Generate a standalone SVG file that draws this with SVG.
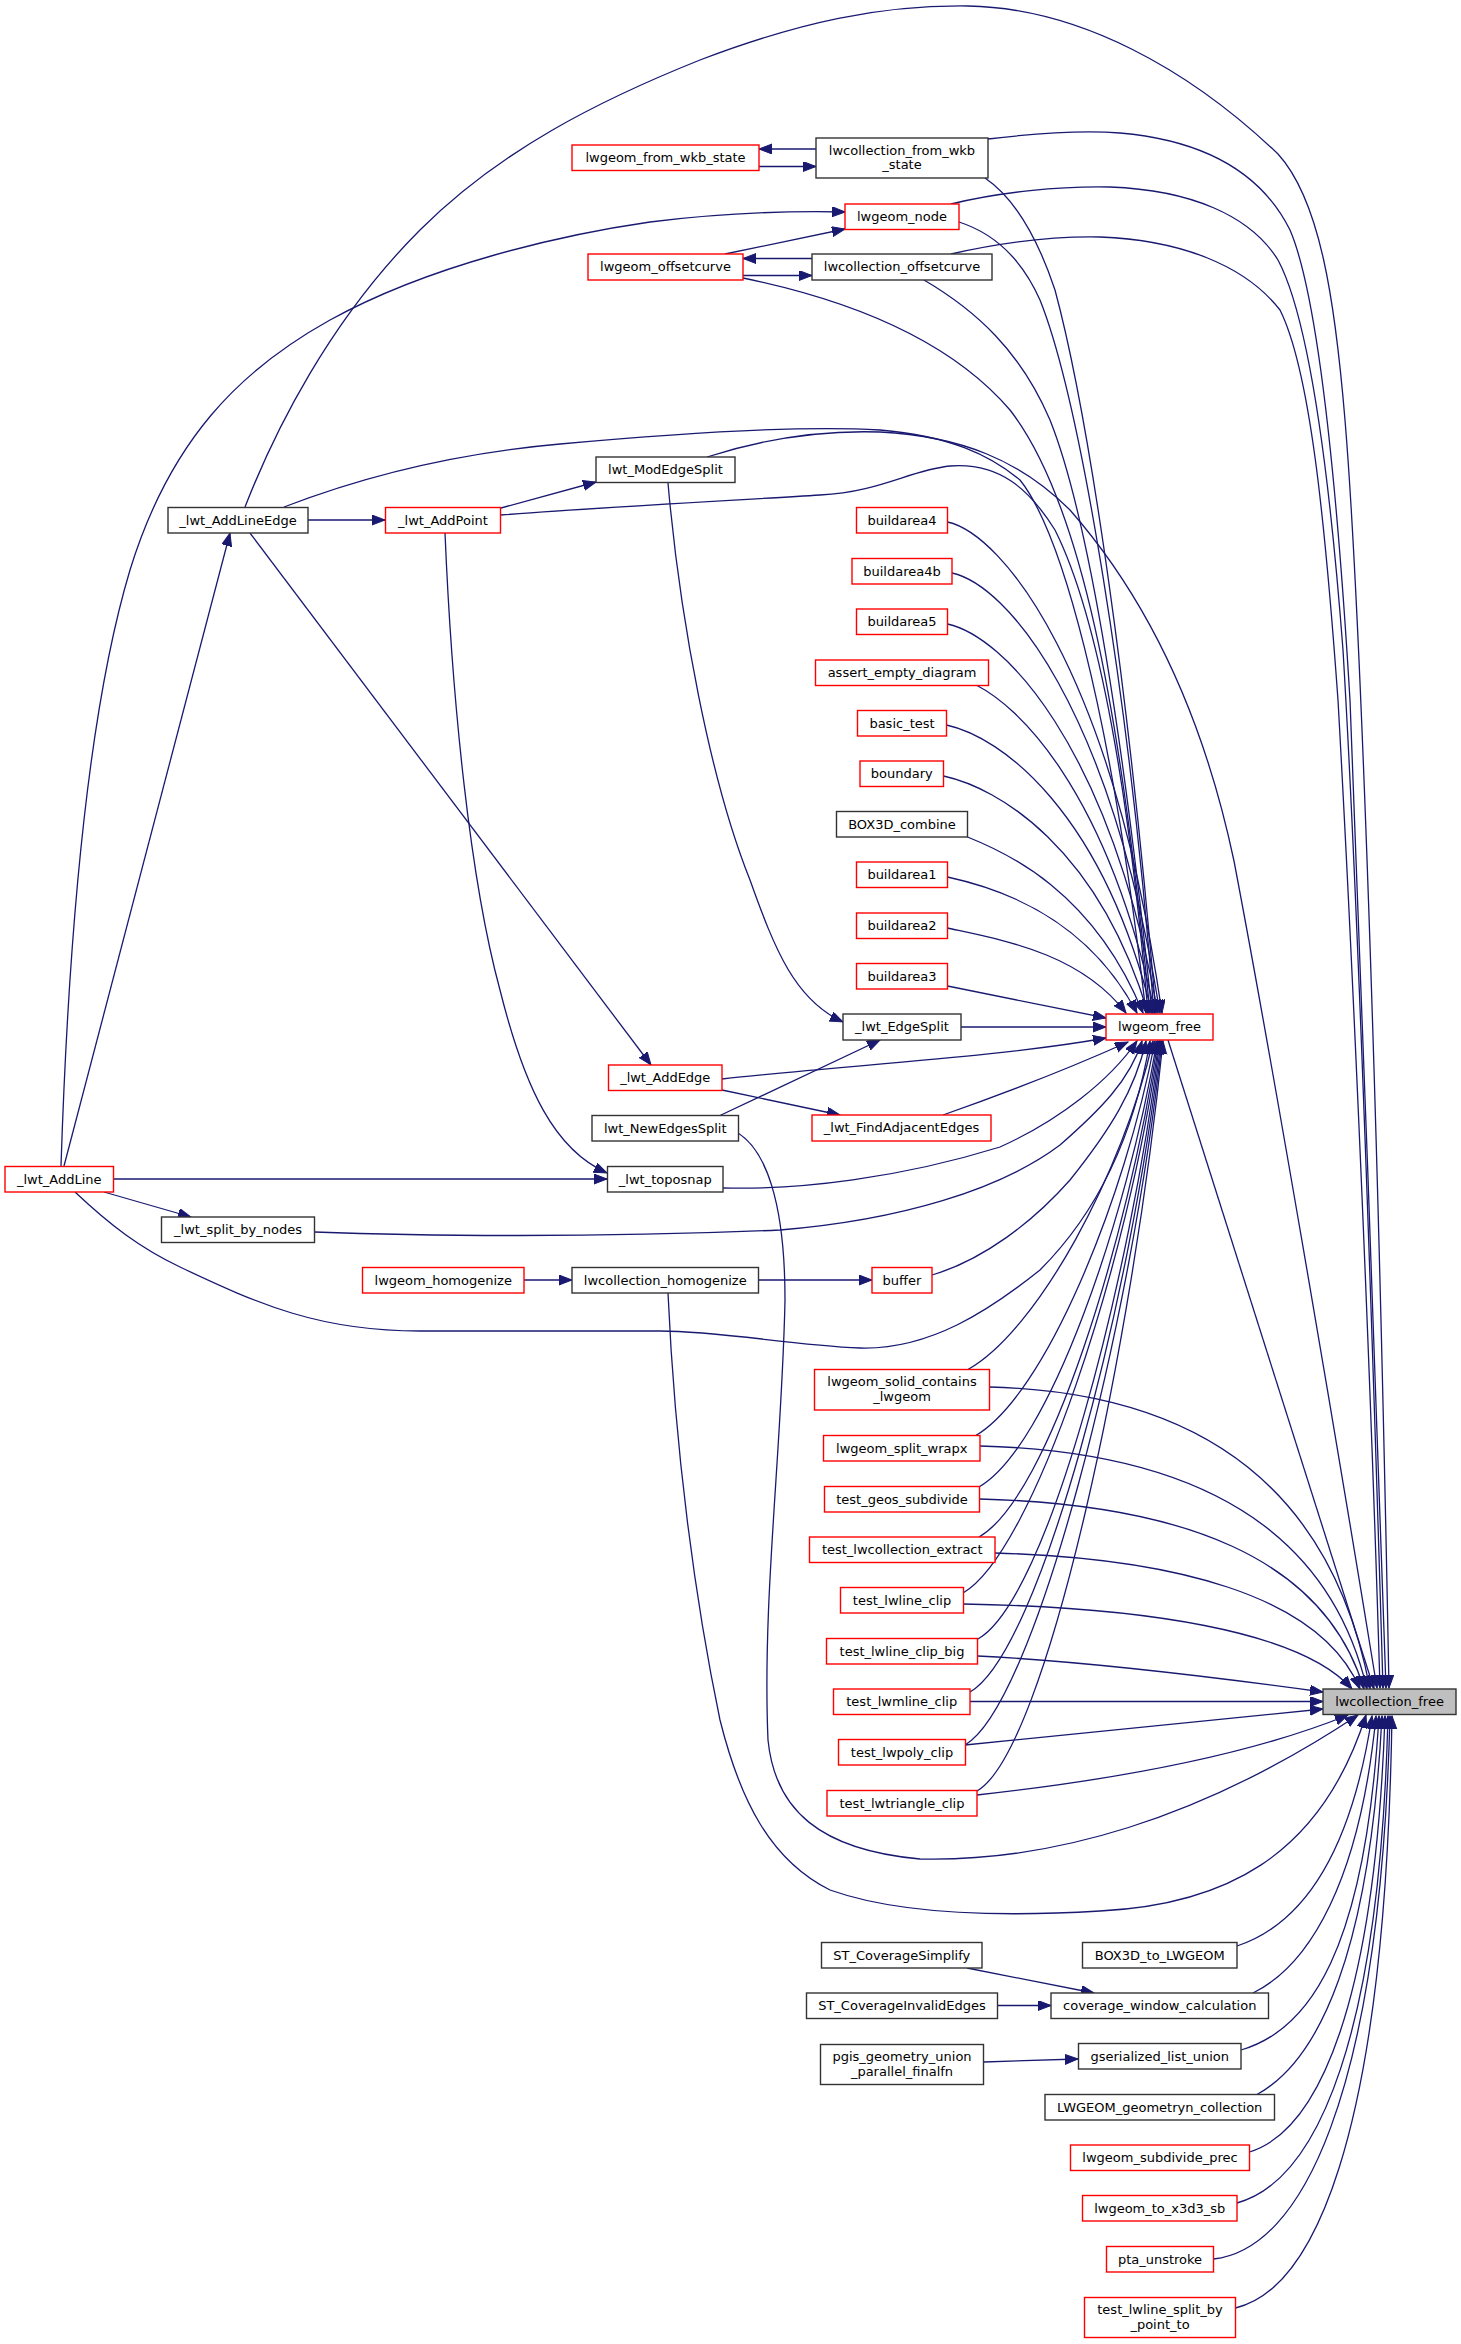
<svg xmlns="http://www.w3.org/2000/svg" width="1461" height="2344" viewBox="0 0 1461 2344">
<style>
.e{fill:none;stroke:#191970;stroke-width:1.3;marker-end:url(#a)}
.nr{fill:#ffffff;stroke:#ff0000;stroke-width:1.4}
.nb{fill:#ffffff;stroke:#333333;stroke-width:1.4}
.nroot{fill:#bfbfbf;stroke:#333333;stroke-width:1.4}
text{font-family:"DejaVu Sans","Liberation Sans",sans-serif;font-size:13px;fill:#000000;text-anchor:middle}
</style>
<defs>
<marker id="a" markerUnits="userSpaceOnUse" markerWidth="14" markerHeight="11" refX="13" refY="5" orient="auto" viewBox="0 0 14 11">
<path d="M0,0 L13,5 L0,10 z" fill="#191970" stroke="#191970" stroke-width="1"/>
</marker>
</defs>
<rect x="0" y="0" width="1461" height="2344" fill="#ffffff"/>
<g id="edges">
<path class="e" d="M1168,1040 L1374,1689"/>
<path class="e" d="M245,507 C275,430 330,320 420,230 C500,150 600,100 700,60 C800,22 880,5 968,6 C1080,8 1190,70 1278,154 C1320,200 1335,300 1345,420 C1360,600 1378,1100 1389,1688"/>
<path class="e" d="M988,139 C1030,134 1080,130 1120,133 C1200,140 1260,170 1290,230 C1320,300 1338,500 1350,700 C1362,1000 1376,1400 1386,1688"/>
<path class="e" d="M951,204 C1000,192 1060,186 1110,187 C1190,190 1250,215 1278,260 C1310,320 1330,480 1343,650 C1358,900 1373,1350 1383,1688"/>
<path class="e" d="M951,254 C1000,243 1050,236 1100,237 C1180,240 1245,265 1280,310 C1310,370 1325,520 1338,700 C1352,950 1370,1350 1380,1688"/>
<path class="e" d="M707,457 C760,440 820,430 880,432 C960,436 1020,460 1070,510 C1140,590 1200,700 1234,861 C1270,1050 1330,1400 1377,1688"/>
<path class="e" d="M284,507 C380,470 470,452 560,444 C680,433 800,425 880,430 C950,436 990,455 1020,480 C1060,530 1110,700 1146,1013"/>
<path class="e" d="M501,508 L596,482"/>
<path class="e" d="M501,515 C620,506 740,500 820,495 C880,492 910,470 950,466 C1000,462 1030,490 1055,530 C1100,620 1130,800 1148,1013"/>
<path class="e" d="M445,533 C452,700 470,880 500,990 C525,1090 555,1150 607,1173"/>
<path class="e" d="M308,520 L385,520"/>
<path class="e" d="M250,533 L651,1065"/>
<path class="e" d="M64,1166 L230,533"/>
<path class="e" d="M61,1166 C68,950 85,720 130,570 C170,440 240,370 330,320 C430,265 560,235 650,222 C730,212 800,211 845,212"/>
<path class="e" d="M113,1179 L607,1179"/>
<path class="e" d="M104,1192 L191,1217"/>
<path class="e" d="M75,1192 C110,1225 140,1248 180,1267 C260,1305 320,1331 420,1331 L660,1331 C720,1331 790,1345 860,1348 C930,1350 990,1310 1040,1270 C1100,1210 1135,1130 1150,1041"/>
<path class="e" d="M668,483 C680,620 710,780 750,880 C775,950 795,1000 843,1022"/>
<path class="e" d="M961,1027 L1106,1027"/>
<path class="e" d="M722,1079 C850,1065 1000,1057 1106,1038"/>
<path class="e" d="M722,1090 L840,1115"/>
<path class="e" d="M720,1115.5 L880,1040"/>
<path class="e" d="M738,1133 C765,1150 785,1200 785,1300 C782,1450 762,1600 768,1740 C775,1810 820,1850 920,1859 C1050,1862 1200,1820 1358,1715"/>
<path class="e" d="M668,1293 C675,1450 695,1600 720,1720 C740,1800 770,1860 830,1890 C900,1915 1000,1917 1100,1911 C1220,1905 1320,1860 1366,1715"/>
<path class="e" d="M524,1280 L572,1280"/>
<path class="e" d="M758.5,1280 L872,1280"/>
<path class="e" d="M932,1275 C983,1260 1033,1222 1070,1180 C1110,1130 1135,1090 1146,1041"/>
<path class="e" d="M314.5,1232 C420,1236 600,1238 780,1230 C900,1220 1000,1190 1060,1145 C1100,1110 1130,1080 1142,1041"/>
<path class="e" d="M723,1188 C800,1190 900,1178 1000,1147 C1060,1120 1110,1080 1137,1041"/>
<path class="e" d="M943,1115 C1000,1095 1070,1068 1128,1042"/>
<path class="e" d="M947.5,522 C1002.5,534 1112,669 1162,1013"/>
<path class="e" d="M952,573 C1007,585 1110,705 1160,1013"/>
<path class="e" d="M947.5,624 C1002.5,636 1108,741 1158,1013"/>
<path class="e" d="M977,685.5 C1015,705 1105,783 1155,1013"/>
<path class="e" d="M946.5,725 C1001.5,737 1102,811 1152,1013"/>
<path class="e" d="M943.5,776 C998.5,788 1098,847 1148,1013"/>
<path class="e" d="M967.5,837 C1005,852 1093,890 1143,1013"/>
<path class="e" d="M947.5,877 C1002.5,889 1087,918 1137,1013"/>
<path class="e" d="M947.5,928 C1002.5,940 1080,953 1126,1013"/>
<path class="e" d="M947.5,986 L1106,1018"/>
<path class="e" d="M816,149 L759,149"/>
<path class="e" d="M759,166.5 L816,166.5"/>
<path class="e" d="M812,258.5 L743,258.5"/>
<path class="e" d="M743,275.5 L812,275.5"/>
<path class="e" d="M725,254 L845,229"/>
<path class="e" d="M743,278 C850,300 950,340 1010,410 C1080,500 1120,700 1150,1013"/>
<path class="e" d="M985,178 C1010,195 1035,230 1055,290 C1090,420 1130,700 1156,1013"/>
<path class="e" d="M959,222 C990,232 1020,255 1040,300 C1080,400 1130,700 1154,1013"/>
<path class="e" d="M924,280 C975,310 1020,350 1050,420 C1090,520 1125,750 1152,1013"/>
<path class="e" d="M968,1369.5 C1038,1330 1123,1172 1153,1041"/>
<path class="e" d="M975,1436 C1045,1396 1125,1199 1155,1041"/>
<path class="e" d="M979,1487 C1049,1447 1127,1219 1157,1041"/>
<path class="e" d="M979,1537 C1049,1497 1128,1239 1158,1041"/>
<path class="e" d="M963,1593 C1033,1553 1129,1262 1159,1041"/>
<path class="e" d="M978,1639 C1048,1599 1130,1280 1160,1041"/>
<path class="e" d="M970,1692 C1040,1652 1131,1301 1161,1041"/>
<path class="e" d="M965,1745 C1035,1705 1132,1323 1162,1041"/>
<path class="e" d="M977,1791 C1047,1751 1133,1341 1163,1041"/>
<path class="e" d="M989.5,1387 C1189,1392 1330,1478 1370,1689"/>
<path class="e" d="M980,1446 C1180,1451 1327,1519 1367,1689"/>
<path class="e" d="M979.5,1499 C1179,1504 1324,1556 1364,1689"/>
<path class="e" d="M995,1553 C1170,1558 1320,1594 1360,1689"/>
<path class="e" d="M963.5,1604 C1140,1607 1300,1630 1352,1689"/>
<path class="e" d="M977.5,1656 C1100,1662 1250,1682 1323,1692"/>
<path class="e" d="M970,1701.5 L1323,1701.5"/>
<path class="e" d="M965,1745 C1080,1733 1200,1721 1323,1709"/>
<path class="e" d="M977,1795 C1113,1780 1250,1755 1348,1715"/>
<path class="e" d="M1237,1946 C1300,1925 1350,1860 1372,1716"/>
<path class="e" d="M1253,1993 C1310,1965 1360,1880 1376,1716"/>
<path class="e" d="M1241,2050 C1310,2030 1365,1950 1379,1716"/>
<path class="e" d="M1257,2094.5 C1320,2060 1370,1950 1382,1716"/>
<path class="e" d="M1249.5,2152 C1320,2130 1375,2000 1385,1716"/>
<path class="e" d="M1237,2203 C1320,2180 1380,2030 1388,1716"/>
<path class="e" d="M1213.5,2259 C1300,2250 1380,2100 1390,1716"/>
<path class="e" d="M1235.5,2308 C1310,2290 1385,2150 1392,1716"/>
<path class="e" d="M967,1968 L1094,1993"/>
<path class="e" d="M997.5,2005.5 L1051,2005.5"/>
<path class="e" d="M983.5,2062 L1078,2059"/>
</g>
<g id="n0"><rect class="nroot" x="1323" y="1689" width="133" height="25.5"/><text x="1389.5" y="1706">lwcollection_free</text></g>
<g id="n1"><rect class="nr" x="1106" y="1014" width="107" height="26"/><text x="1159.5" y="1031">lwgeom_free</text></g>
<g id="n2"><rect class="nb" x="816" y="138" width="172" height="40"/><text x="902" y="154.5">lwcollection_from_wkb</text><text x="902" y="169">_state</text></g>
<g id="n3"><rect class="nr" x="572" y="145" width="187" height="25.5"/><text x="665.5" y="162">lwgeom_from_wkb_state</text></g>
<g id="n4"><rect class="nr" x="845" y="204" width="114" height="25.5"/><text x="902" y="221">lwgeom_node</text></g>
<g id="n5"><rect class="nr" x="588" y="254" width="155" height="26"/><text x="665.5" y="271">lwgeom_offsetcurve</text></g>
<g id="n6"><rect class="nb" x="812" y="254" width="180" height="26"/><text x="902" y="271">lwcollection_offsetcurve</text></g>
<g id="n7"><rect class="nb" x="596" y="457" width="139" height="25.5"/><text x="665.5" y="474">lwt_ModEdgeSplit</text></g>
<g id="n8"><rect class="nb" x="168" y="507.5" width="140" height="25.5"/><text x="238" y="524.5">_lwt_AddLineEdge</text></g>
<g id="n9"><rect class="nr" x="385.5" y="507.5" width="115" height="25.5"/><text x="443" y="524.5">_lwt_AddPoint</text></g>
<g id="n10"><rect class="nr" x="856.5" y="507.5" width="91" height="25.5"/><text x="902" y="524.5">buildarea4</text></g>
<g id="n11"><rect class="nr" x="852" y="558.5" width="100" height="25.5"/><text x="902" y="575.5">buildarea4b</text></g>
<g id="n12"><rect class="nr" x="856.5" y="609" width="91" height="25.5"/><text x="902" y="626">buildarea5</text></g>
<g id="n13"><rect class="nr" x="815.5" y="660" width="173" height="25.5"/><text x="902" y="677">assert_empty_diagram</text></g>
<g id="n14"><rect class="nr" x="857.5" y="710.5" width="89" height="25.5"/><text x="902" y="727.5">basic_test</text></g>
<g id="n15"><rect class="nr" x="860" y="761" width="83.5" height="25.5"/><text x="901.75" y="778">boundary</text></g>
<g id="n16"><rect class="nb" x="836.5" y="811.5" width="131" height="25.5"/><text x="902" y="828.5">BOX3D_combine</text></g>
<g id="n17"><rect class="nr" x="856.5" y="862" width="91" height="25.5"/><text x="902" y="879">buildarea1</text></g>
<g id="n18"><rect class="nr" x="856.5" y="913" width="91" height="25.5"/><text x="902" y="930">buildarea2</text></g>
<g id="n19"><rect class="nr" x="856.5" y="963.5" width="91" height="25.5"/><text x="902" y="980.5">buildarea3</text></g>
<g id="n20"><rect class="nb" x="843" y="1014" width="118" height="26"/><text x="902" y="1031">_lwt_EdgeSplit</text></g>
<g id="n21"><rect class="nr" x="608.5" y="1065" width="113.5" height="25.5"/><text x="665.25" y="1082">_lwt_AddEdge</text></g>
<g id="n22"><rect class="nb" x="592" y="1115.5" width="146.5" height="25.5"/><text x="665.25" y="1132.5">lwt_NewEdgesSplit</text></g>
<g id="n23"><rect class="nr" x="812" y="1115" width="179" height="26"/><text x="901.5" y="1132">_lwt_FindAdjacentEdges</text></g>
<g id="n24"><rect class="nr" x="5" y="1166.5" width="108.5" height="25.5"/><text x="59.25" y="1183.5">_lwt_AddLine</text></g>
<g id="n25"><rect class="nb" x="607.5" y="1166.5" width="115.5" height="25.5"/><text x="665.25" y="1183.5">_lwt_toposnap</text></g>
<g id="n26"><rect class="nb" x="161.5" y="1217" width="153" height="25.5"/><text x="238" y="1234">_lwt_split_by_nodes</text></g>
<g id="n27"><rect class="nr" x="362.5" y="1267.5" width="161.5" height="25.5"/><text x="443.25" y="1284.5">lwgeom_homogenize</text></g>
<g id="n28"><rect class="nb" x="572" y="1267.5" width="186.5" height="25.5"/><text x="665.25" y="1284.5">lwcollection_homogenize</text></g>
<g id="n29"><rect class="nr" x="872" y="1267.5" width="60" height="25.5"/><text x="902" y="1284.5">buffer</text></g>
<g id="n30"><rect class="nr" x="814.5" y="1369.5" width="175" height="40.5"/><text x="902" y="1386">lwgeom_solid_contains</text><text x="902" y="1400.5">_lwgeom</text></g>
<g id="n31"><rect class="nr" x="823.5" y="1435.5" width="156.5" height="25.5"/><text x="901.75" y="1452.5">lwgeom_split_wrapx</text></g>
<g id="n32"><rect class="nr" x="824.5" y="1486.5" width="155" height="25.5"/><text x="902" y="1503.5">test_geos_subdivide</text></g>
<g id="n33"><rect class="nr" x="809.5" y="1537" width="185.5" height="25.5"/><text x="902.25" y="1554">test_lwcollection_extract</text></g>
<g id="n34"><rect class="nr" x="840.5" y="1587.5" width="123" height="25.5"/><text x="902" y="1604.5">test_lwline_clip</text></g>
<g id="n35"><rect class="nr" x="826.5" y="1638.5" width="151" height="25.5"/><text x="902" y="1655.5">test_lwline_clip_big</text></g>
<g id="n36"><rect class="nr" x="833.5" y="1689" width="136.5" height="25.5"/><text x="901.75" y="1706">test_lwmline_clip</text></g>
<g id="n37"><rect class="nr" x="838.5" y="1739.5" width="127" height="25.5"/><text x="902" y="1756.5">test_lwpoly_clip</text></g>
<g id="n38"><rect class="nr" x="827" y="1790.5" width="150" height="25.5"/><text x="902" y="1807.5">test_lwtriangle_clip</text></g>
<g id="n39"><rect class="nb" x="821.5" y="1942.5" width="160.5" height="25.5"/><text x="901.75" y="1959.5">ST_CoverageSimplify</text></g>
<g id="n40"><rect class="nb" x="1082.5" y="1942.5" width="154.5" height="25.5"/><text x="1159.75" y="1959.5">BOX3D_to_LWGEOM</text></g>
<g id="n41"><rect class="nb" x="806.5" y="1993" width="191" height="25.5"/><text x="902" y="2010">ST_CoverageInvalidEdges</text></g>
<g id="n42"><rect class="nb" x="1051" y="1993" width="217.5" height="25.5"/><text x="1159.75" y="2010">coverage_window_calculation</text></g>
<g id="n43"><rect class="nb" x="820.5" y="2044.5" width="163" height="40"/><text x="902" y="2061">pgis_geometry_union</text><text x="902" y="2075.5">_parallel_finalfn</text></g>
<g id="n44"><rect class="nb" x="1078.5" y="2043.5" width="162.5" height="25.5"/><text x="1159.75" y="2060.5">gserialized_list_union</text></g>
<g id="n45"><rect class="nb" x="1045" y="2094.5" width="229.5" height="25.5"/><text x="1159.75" y="2111.5">LWGEOM_geometryn_collection</text></g>
<g id="n46"><rect class="nr" x="1070.5" y="2145" width="179" height="25.5"/><text x="1160" y="2162">lwgeom_subdivide_prec</text></g>
<g id="n47"><rect class="nr" x="1082.5" y="2195.5" width="154.5" height="25.5"/><text x="1159.75" y="2212.5">lwgeom_to_x3d3_sb</text></g>
<g id="n48"><rect class="nr" x="1106.5" y="2246.5" width="107" height="25.5"/><text x="1160" y="2263.5">pta_unstroke</text></g>
<g id="n49"><rect class="nr" x="1084.5" y="2297.5" width="151" height="40"/><text x="1160" y="2314">test_lwline_split_by</text><text x="1160" y="2328.5">_point_to</text></g>
</svg>
